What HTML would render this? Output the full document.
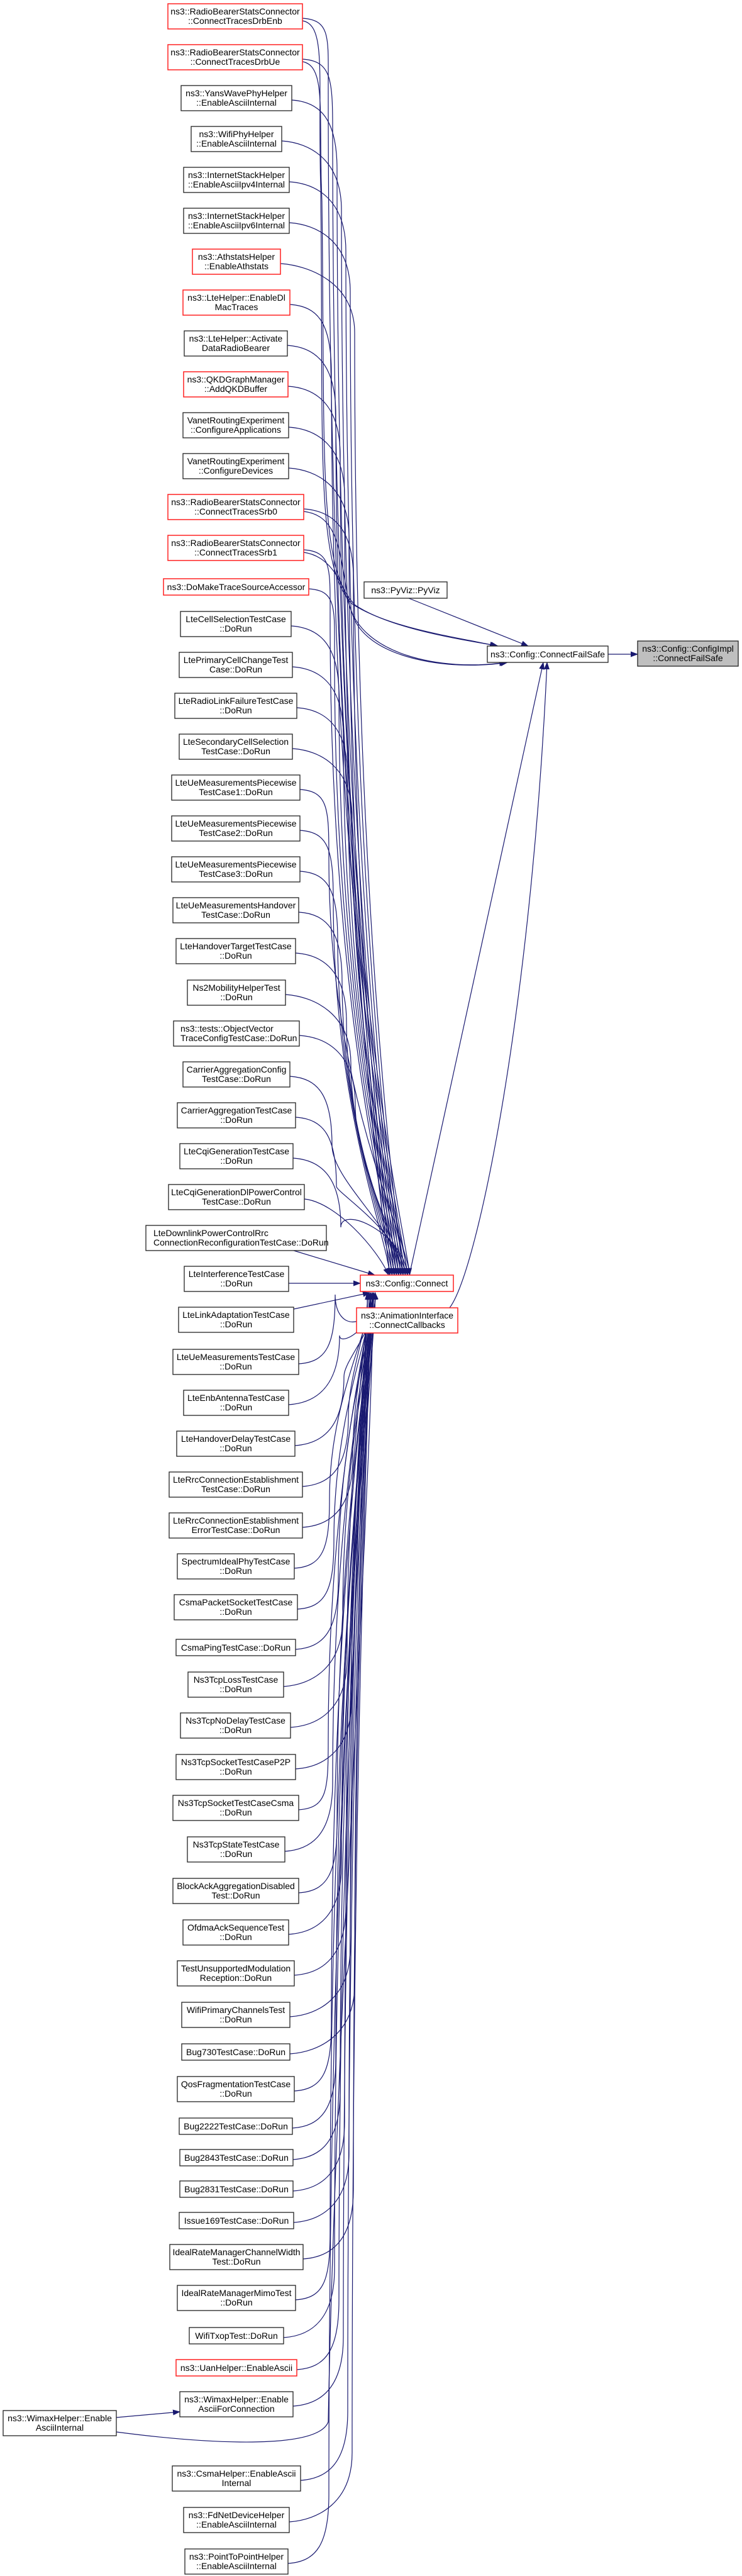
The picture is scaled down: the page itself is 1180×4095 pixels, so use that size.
<!DOCTYPE html>
<html><head><meta charset="utf-8"><style>
html,body{margin:0;padding:0;background:#fff;}
svg{display:block;}
text{font-family:"Liberation Sans",Arial,sans-serif;font-size:14px;fill:#000;text-anchor:middle;}
rect{fill:#fff;stroke:#222;stroke-width:1.3;}
rect.r{stroke:#ff2020;stroke-width:1.5;}
rect.g{fill:#bfbfbf;}
.e{fill:none;stroke:#191970;stroke-width:1.2;}
</style></head><body>
<svg id="s" width="1180" height="4095" viewBox="0 0 1180 4095" xmlns="http://www.w3.org/2000/svg">
<defs><marker id="a" markerUnits="userSpaceOnUse" markerWidth="12" markerHeight="9" refX="11" refY="4.5" orient="auto"><path d="M0,0 L12,4.5 L0,9 z" fill="#191970"/></marker></defs>
<g id="edges"></g>
<g id="nodes">
<rect class="r" x="267" y="6" width="214" height="40"/><text x="374" y="23">ns3::RadioBearerStatsConnector</text><text x="374" y="38">::ConnectTracesDrbEnb</text>
<rect class="r" x="267" y="71" width="214" height="40"/><text x="374" y="88">ns3::RadioBearerStatsConnector</text><text x="374" y="103">::ConnectTracesDrbUe</text>
<rect x="288" y="136" width="176" height="40"/><text x="376" y="153">ns3::YansWavePhyHelper</text><text x="376" y="168">::EnableAsciiInternal</text>
<rect x="304" y="201" width="144" height="40"/><text x="376" y="218">ns3::WifiPhyHelper</text><text x="376" y="233">::EnableAsciiInternal</text>
<rect x="292" y="266" width="168" height="40"/><text x="376" y="283">ns3::InternetStackHelper</text><text x="376" y="298">::EnableAsciiIpv4Internal</text>
<rect x="292" y="331" width="168" height="40"/><text x="376" y="348">ns3::InternetStackHelper</text><text x="376" y="363">::EnableAsciiIpv6Internal</text>
<rect class="r" x="306" y="396" width="140" height="40"/><text x="376" y="413">ns3::AthstatsHelper</text><text x="376" y="428">::EnableAthstats</text>
<rect class="r" x="291" y="461" width="170" height="40"/><text x="376" y="478">ns3::LteHelper::EnableDl</text><text x="376" y="493">MacTraces</text>
<rect x="293" y="526" width="164" height="40"/><text x="375" y="543">ns3::LteHelper::Activate</text><text x="375" y="558">DataRadioBearer</text>
<rect class="r" x="292" y="591" width="166" height="40"/><text x="375" y="608">ns3::QKDGraphManager</text><text x="375" y="623">::AddQKDBuffer</text>
<rect x="291" y="656" width="168" height="40"/><text x="375" y="673">VanetRoutingExperiment</text><text x="375" y="688">::ConfigureApplications</text>
<rect x="291" y="721" width="168" height="40"/><text x="375" y="738">VanetRoutingExperiment</text><text x="375" y="753">::ConfigureDevices</text>
<rect class="r" x="267" y="786" width="216" height="40"/><text x="375" y="803">ns3::RadioBearerStatsConnector</text><text x="375" y="818">::ConnectTracesSrb0</text>
<rect class="r" x="267" y="851" width="216" height="40"/><text x="375" y="868">ns3::RadioBearerStatsConnector</text><text x="375" y="883">::ConnectTracesSrb1</text>
<rect class="r" x="260" y="920" width="231" height="26"/><text x="375.5" y="938">ns3::DoMakeTraceSourceAccessor</text>
<rect x="287" y="972" width="176" height="40"/><text x="375" y="989">LteCellSelectionTestCase</text><text x="375" y="1004">::DoRun</text>
<rect x="285" y="1037" width="180" height="40"/><text x="375" y="1054">LtePrimaryCellChangeTest</text><text x="375" y="1069">Case::DoRun</text>
<rect x="278" y="1102" width="194" height="40"/><text x="375" y="1119">LteRadioLinkFailureTestCase</text><text x="375" y="1134">::DoRun</text>
<rect x="285" y="1167" width="180" height="40"/><text x="375" y="1184">LteSecondaryCellSelection</text><text x="375" y="1199">TestCase::DoRun</text>
<rect x="273" y="1232" width="204" height="40"/><text x="375" y="1249">LteUeMeasurementsPiecewise</text><text x="375" y="1264">TestCase1::DoRun</text>
<rect x="273" y="1297" width="204" height="40"/><text x="375" y="1314">LteUeMeasurementsPiecewise</text><text x="375" y="1329">TestCase2::DoRun</text>
<rect x="273" y="1362" width="204" height="40"/><text x="375" y="1379">LteUeMeasurementsPiecewise</text><text x="375" y="1394">TestCase3::DoRun</text>
<rect x="275" y="1427" width="200" height="40"/><text x="375" y="1444">LteUeMeasurementsHandover</text><text x="375" y="1459">TestCase::DoRun</text>
<rect x="280" y="1492" width="190" height="40"/><text x="375" y="1509">LteHandoverTargetTestCase</text><text x="375" y="1524">::DoRun</text>
<rect x="298" y="1558" width="156" height="40"/><text x="376" y="1575">Ns2MobilityHelperTest</text><text x="376" y="1590">::DoRun</text>
<rect x="276" y="1623" width="200" height="40"/><text x="287" y="1640" style="text-anchor:start">ns3::tests::ObjectVector</text><text x="287" y="1655" style="text-anchor:start">TraceConfigTestCase::DoRun</text>
<rect x="291" y="1688" width="170" height="40"/><text x="376" y="1705">CarrierAggregationConfig</text><text x="376" y="1720">TestCase::DoRun</text>
<rect x="282" y="1753" width="188" height="40"/><text x="376" y="1770">CarrierAggregationTestCase</text><text x="376" y="1785">::DoRun</text>
<rect x="286" y="1818" width="180" height="40"/><text x="376" y="1835">LteCqiGenerationTestCase</text><text x="376" y="1850">::DoRun</text>
<rect x="268" y="1883" width="216" height="40"/><text x="376" y="1900">LteCqiGenerationDlPowerControl</text><text x="376" y="1915">TestCase::DoRun</text>
<rect x="232" y="1948" width="287" height="40"/><text x="244" y="1965" style="text-anchor:start">LteDownlinkPowerControlRrc</text><text x="244" y="1980" style="text-anchor:start">ConnectionReconfigurationTestCase::DoRun</text>
<rect x="293" y="2013" width="166" height="40"/><text x="376" y="2030">LteInterferenceTestCase</text><text x="376" y="2045">::DoRun</text>
<rect x="284" y="2078" width="183" height="40"/><text x="375.5" y="2095">LteLinkAdaptationTestCase</text><text x="375.5" y="2110">::DoRun</text>
<rect x="275" y="2145" width="200" height="40"/><text x="375" y="2162">LteUeMeasurementsTestCase</text><text x="375" y="2177">::DoRun</text>
<rect x="292" y="2210" width="167" height="40"/><text x="375.5" y="2227">LteEnbAntennaTestCase</text><text x="375.5" y="2242">::DoRun</text>
<rect x="281" y="2275" width="188" height="40"/><text x="375" y="2292">LteHandoverDelayTestCase</text><text x="375" y="2307">::DoRun</text>
<rect x="269" y="2340" width="212" height="40"/><text x="375" y="2357">LteRrcConnectionEstablishment</text><text x="375" y="2372">TestCase::DoRun</text>
<rect x="269" y="2405" width="212" height="40"/><text x="375" y="2422">LteRrcConnectionEstablishment</text><text x="375" y="2437">ErrorTestCase::DoRun</text>
<rect x="282" y="2470" width="186" height="40"/><text x="375" y="2487">SpectrumIdealPhyTestCase</text><text x="375" y="2502">::DoRun</text>
<rect x="277" y="2535" width="196" height="40"/><text x="375" y="2552">CsmaPacketSocketTestCase</text><text x="375" y="2567">::DoRun</text>
<rect x="280" y="2606" width="190" height="26"/><text x="375" y="2624">CsmaPingTestCase::DoRun</text>
<rect x="299" y="2658" width="152" height="40"/><text x="375" y="2675">Ns3TcpLossTestCase</text><text x="375" y="2690">::DoRun</text>
<rect x="287" y="2723" width="175" height="40"/><text x="374.5" y="2740">Ns3TcpNoDelayTestCase</text><text x="374.5" y="2755">::DoRun</text>
<rect x="280" y="2789" width="190" height="40"/><text x="375" y="2806">Ns3TcpSocketTestCaseP2P</text><text x="375" y="2821">::DoRun</text>
<rect x="275" y="2854" width="200" height="40"/><text x="375" y="2871">Ns3TcpSocketTestCaseCsma</text><text x="375" y="2886">::DoRun</text>
<rect x="298" y="2920" width="155" height="40"/><text x="375.5" y="2937">Ns3TcpStateTestCase</text><text x="375.5" y="2952">::DoRun</text>
<rect x="275" y="2986" width="200" height="40"/><text x="375" y="3003">BlockAckAggregationDisabled</text><text x="375" y="3018">Test::DoRun</text>
<rect x="291" y="3052" width="168" height="40"/><text x="375" y="3069">OfdmaAckSequenceTest</text><text x="375" y="3084">::DoRun</text>
<rect x="282" y="3117" width="186" height="40"/><text x="375" y="3134">TestUnsupportedModulation</text><text x="375" y="3149">Reception::DoRun</text>
<rect x="289" y="3183" width="172" height="40"/><text x="375" y="3200">WifiPrimaryChannelsTest</text><text x="375" y="3215">::DoRun</text>
<rect x="289" y="3249" width="172" height="26"/><text x="375" y="3267">Bug730TestCase::DoRun</text>
<rect x="282" y="3301" width="186" height="40"/><text x="375" y="3318">QosFragmentationTestCase</text><text x="375" y="3333">::DoRun</text>
<rect x="285" y="3367" width="180" height="26"/><text x="375" y="3385">Bug2222TestCase::DoRun</text>
<rect x="286" y="3417" width="180" height="26"/><text x="376" y="3435">Bug2843TestCase::DoRun</text>
<rect x="286" y="3467" width="180" height="26"/><text x="376" y="3485">Bug2831TestCase::DoRun</text>
<rect x="285" y="3517" width="182" height="26"/><text x="376" y="3535">Issue169TestCase::DoRun</text>
<rect x="270" y="3568" width="212" height="40"/><text x="376" y="3585">IdealRateManagerChannelWidth</text><text x="376" y="3600">Test::DoRun</text>
<rect x="282" y="3633" width="188" height="40"/><text x="376" y="3650">IdealRateManagerMimoTest</text><text x="376" y="3665">::DoRun</text>
<rect x="301" y="3700" width="150" height="26"/><text x="376" y="3718">WifiTxopTest::DoRun</text>
<rect class="r" x="280" y="3751" width="192" height="26"/><text x="376" y="3769">ns3::UanHelper::EnableAscii</text>
<rect x="286" y="3802" width="180" height="40"/><text x="376" y="3819">ns3::WimaxHelper::Enable</text><text x="376" y="3834">AsciiForConnection</text>
<rect x="274" y="3920" width="204" height="40"/><text x="376" y="3937">ns3::CsmaHelper::EnableAscii</text><text x="376" y="3952">Internal</text>
<rect x="292" y="3986" width="168" height="40"/><text x="376" y="4003">ns3::FdNetDeviceHelper</text><text x="376" y="4018">::EnableAsciiInternal</text>
<rect x="294" y="4052" width="164" height="40"/><text x="376" y="4069">ns3::PointToPointHelper</text><text x="376" y="4084">::EnableAsciiInternal</text>
<rect x="5" y="3832" width="180" height="40"/><text x="95" y="3849">ns3::WimaxHelper::Enable</text><text x="95" y="3864">AsciiInternal</text>
<rect x="579" y="925" width="132" height="26"/><text x="645" y="943">ns3::PyViz::PyViz</text>
<rect x="775" y="1027" width="192" height="26"/><text x="871" y="1045">ns3::Config::ConnectFailSafe</text>
<rect class="g" x="1014" y="1019" width="160" height="40"/><text x="1094" y="1036">ns3::Config::ConfigImpl</text><text x="1094" y="1051">::ConnectFailSafe</text>
<rect class="r" x="573" y="2027" width="148" height="26"/><text x="647" y="2045">ns3::Config::Connect</text>
<rect class="r" x="567" y="2079" width="161" height="40"/><text x="647.5" y="2096">ns3::AnimationInterface</text><text x="647.5" y="2111">::ConnectCallbacks</text>
</g>
</svg>
<script>
(function(){
var N=[[267,481,6,40],[267,481,71,40],[288,464,136,40],[304,448,201,40],[292,460,266,40],[292,460,331,40],[306,446,396,40],[291,461,461,40],[293,457,526,40],[292,458,591,40],[291,459,656,40],[291,459,721,40],[267,483,786,40],[267,483,851,40],[260,491,920,26],[287,463,972,40],[285,465,1037,40],[278,472,1102,40],[285,465,1167,40],[273,477,1232,40],[273,477,1297,40],[273,477,1362,40],[275,475,1427,40],[280,470,1492,40],[298,454,1558,40],[276,476,1623,40],[291,461,1688,40],[282,470,1753,40],[286,466,1818,40],[268,484,1883,40],[232,519,1948,40],[293,459,2013,40],[284,467,2078,40],[275,475,2145,40],[292,459,2210,40],[281,469,2275,40],[269,481,2340,40],[269,481,2405,40],[282,468,2470,40],[277,473,2535,40],[280,470,2606,26],[299,451,2658,40],[287,462,2723,40],[280,470,2789,40],[275,475,2854,40],[298,453,2920,40],[275,475,2986,40],[291,459,3052,40],[282,468,3117,40],[289,461,3183,40],[289,461,3249,26],[282,468,3301,40],[285,465,3367,26],[286,466,3417,26],[286,466,3467,26],[285,467,3517,26],[270,482,3568,40],[282,470,3633,40],[301,451,3700,26],[280,472,3751,26],[286,466,3802,40],[274,478,3920,40],[292,460,3986,40],[294,458,4052,40]];
var d=[];
function P(s){d.push('<path class="e" marker-end="url(#a)" d="'+s+'"/>');}
for(var i=0;i<N.length;i++){
 var R=N[i][1],t=N[i][2],h=N[i][3],m=t+h/2+3;
 var X=522+((i*7)%44);
 if(i<=28){
  var ex=620+(i%10)*3.5, y1=m+110;
  P('M'+R+','+m+' C'+(R+45)+','+(m+3)+' '+X+','+(m+30)+' '+X+','+y1+' C'+X+','+(y1+(1900-y1)*0.7)+' '+(ex-6)+','+1960+' '+ex+',2027');
 } else if(i==29){
  P('M'+R+','+m+' C'+(R+50)+','+(m+5)+' 600,1985 618,2027');
 } else if(i==30){
  P('M467,1988 L596,2027');
 } else if(i==31){
  P('M459,2040 L573,2040');
 } else if(i==32){
  P('M467,2081 L588,2055');
 } else {
  var ex2=584+(i%6)*2.5, y2=m-110;
  P('M'+R+','+m+' C'+(R+45)+','+(m-3)+' '+X+','+(m-30)+' '+X+','+y2+' C'+X+','+(y2-(y2-2150)*0.7)+' '+(ex2+4)+',2110 '+ex2+',2055');
 }
}
// Wimax edges
P('M185,3843 L286,3834');
P('M185,3866 C330,3885 505,3895 522,3850 C534,3200 600,2200 592,2055');
// to ConnectFailSafe
P('M481,33 C520,40 505,120 510,300 C515,700 500,900 560,960 C620,1000 740,1015 790,1027');
P('M481,98 C520,105 506,180 512,320 C517,720 505,905 565,962 C625,1002 745,1018 792,1027');
P('M483,813 C540,820 540,880 555,960 C575,1040 700,1068 805,1053');
P('M483,878 C530,885 545,930 560,975 C580,1045 710,1068 807,1053');
P('M650,951 L840,1027');
P('M651,2027 L864,1053');
P('M715,2079 C760,2020 845,1600 870,1053');
P('M967,1040 L1014,1040');
document.getElementById('edges').innerHTML=d.join('');
})();
</script>
</body></html>
